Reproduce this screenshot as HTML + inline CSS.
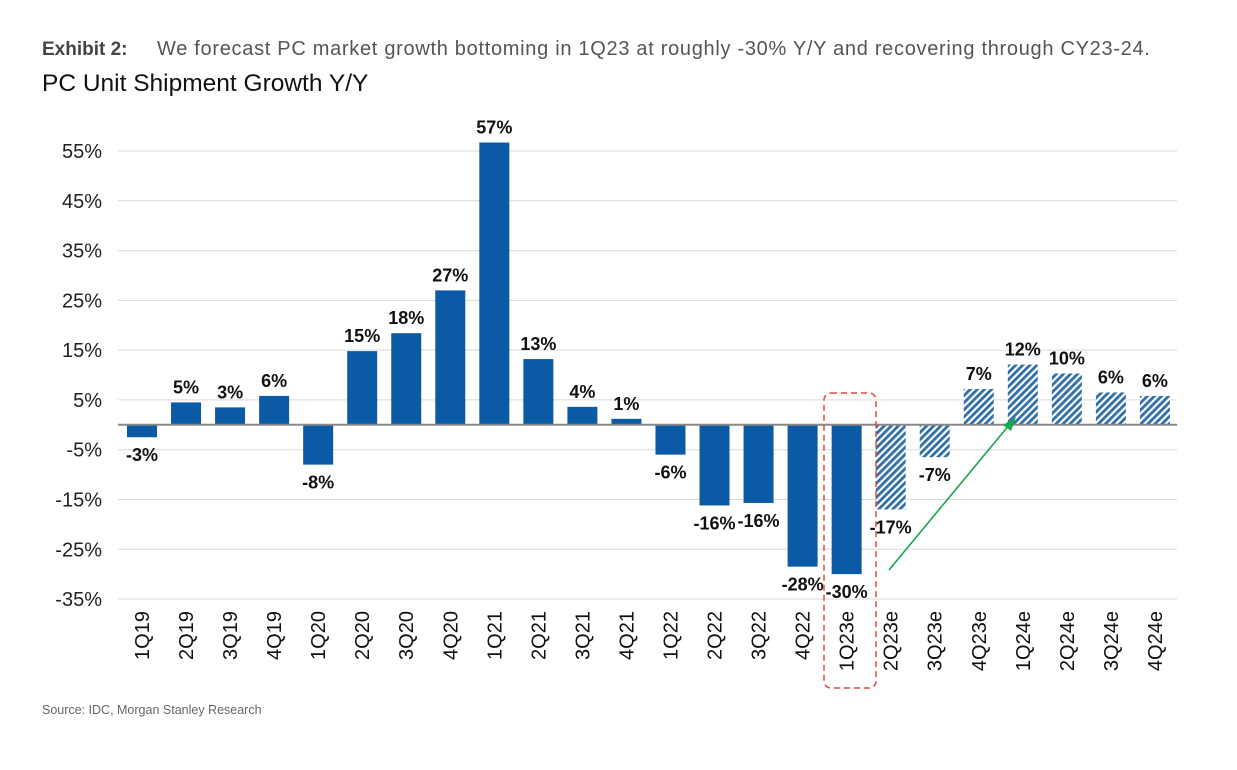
<!DOCTYPE html>
<html><head><meta charset="utf-8"><style>
body{margin:0;background:#fff;font-family:"Liberation Sans",sans-serif}
svg{display:block}
</style></head><body>
<svg id="c" width="1237" height="770">
<defs><pattern id="hatch" patternUnits="userSpaceOnUse" width="5" height="5" patternTransform="rotate(45)">
<rect width="5" height="5" fill="#ffffff"/><rect width="2.8" height="5" fill="#2f6faa"/></pattern></defs>
<text x="42" y="55" font-size="19" fill="#444"><tspan font-weight="bold">Exhibit 2:</tspan><tspan x="157" fill="#555" font-size="20" letter-spacing="0.7">We forecast PC market growth bottoming in 1Q23 at roughly -30% Y/Y and recovering through CY23-24.</tspan></text>
<text x="42" y="91" font-size="24.5" fill="#111">PC Unit Shipment Growth Y/Y</text>
<text x="42" y="714" font-size="12.5" fill="#666">Source: IDC, Morgan Stanley Research</text>
<g id="grid"></g><g id="bars"></g><g id="labels"></g>
</svg>
<script>
const categories=["1Q19","2Q19","3Q19","4Q19","1Q20","2Q20","3Q20","4Q20","1Q21","2Q21","3Q21","4Q21","1Q22","2Q22","3Q22","4Q22","1Q23e","2Q23e","3Q23e","4Q23e","1Q24e","2Q24e","3Q24e","4Q24e"];
const values=[-2.5,4.5,3.5,5.8,-8,14.8,18.4,27,56.7,13.2,3.6,1.2,-6,-16.2,-15.7,-28.5,-30,-17,-6.5,7.2,12.1,10.3,6.5,5.8];
const valueLabels=["-3%","5%","3%","6%","-8%","15%","18%","27%","57%","13%","4%","1%","-6%","-16%","-16%","-28%","-30%","-17%","-7%","7%","12%","10%","6%","6%"];
const forecast=[0,0,0,0,0,0,0,0,0,0,0,0,0,0,0,0,0,1,1,1,1,1,1,1];
const ticks=[55,45,35,25,15,5,-5,-15,-25,-35];
const NS="http://www.w3.org/2000/svg";
const y=v=>424.8-v*4.978;
const x=i=>142+i*44.04;
function mk(t,a,p){const e=document.createElementNS(NS,t);for(const k in a)e.setAttribute(k,a[k]);p.appendChild(e);return e;}
const svg=document.getElementById('c'),G=document.getElementById('grid'),B=document.getElementById('bars'),L=document.getElementById('labels');
ticks.forEach(t=>{
 const l=mk('line',{x1:118,x2:1177,y1:y(t),y2:y(t),stroke:'#d9d9d9','stroke-width':1},G);
 
 
 const tx=mk('text',{x:102,y:y(t)+7,'font-size':20,'text-anchor':'end',fill:'#222'},G);tx.textContent=t+'%';
 
 
});
values.forEach((v,i)=>{
 const cx=x(i),w=30;
 const r=mk('rect',{x:cx-w/2,y:Math.min(y(v),y(0)),width:w,height:Math.abs(y(v)-y(0)),fill:forecast[i]?'url(#hatch)':'#0a5aa6'},B);
 
 
 const ly=v>=0?y(v)-9:y(v)+24;
 const t=mk('text',{x:cx,y:ly,'font-size':18,'font-weight':'bold','text-anchor':'middle',fill:'#111'},L);t.textContent=valueLabels[i];
 
 
 const c=mk('text',{transform:`translate(${cx+7},611) rotate(-90)`,'font-size':20,'text-anchor':'end',fill:'#111'},L);c.textContent=categories[i];
 
 
});
const ax=mk('line',{x1:118,x2:1177,y1:y(0),y2:y(0),stroke:'#888','stroke-width':2},svg);


const hl=mk('rect',{x:824,y:393,width:52,height:295,rx:7,fill:'none',stroke:'#e8473f','stroke-width':1.5,'stroke-dasharray':'6,4'},svg);


const ar=mk('line',{x1:889,y1:570,x2:1010,y2:424,stroke:'#1aa64a','stroke-width':1.6},svg);


const ah=mk('polygon',{points:'1016,417 1003,425 1011,431',fill:'#1aa64a'},svg);


</script>
</body></html>
